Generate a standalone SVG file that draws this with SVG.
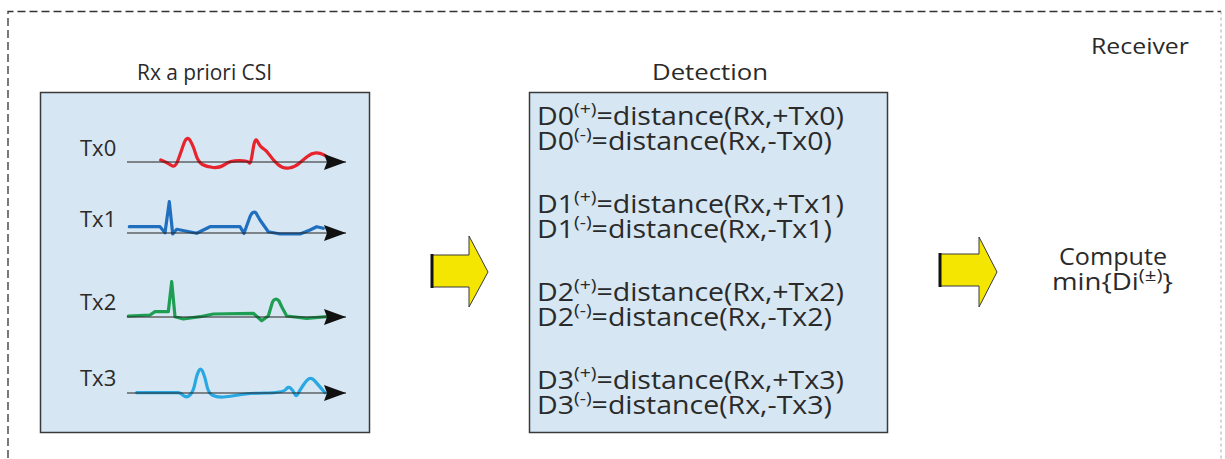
<svg xmlns="http://www.w3.org/2000/svg" width="1225" height="459" viewBox="0 0 1225 459">
<style>
text{font-family:"Open Sans","Liberation Sans",sans-serif;fill:#2a2a2a}
.h{font-size:21px}
.t{font-size:22px}
.d{font-size:25px}
.c{font-size:23px}
.s{font-size:17px}
.box{fill:#d6e6f2;stroke:#3a3a3a;stroke-width:1.5}
.ax{stroke:#222;stroke-width:1.2;fill:none}
.w{fill:none;stroke-width:3.2;stroke-linejoin:round;stroke-linecap:round}
.ya{fill:#f4e600;stroke:#3a3a3a;stroke-width:1}
.sh{stroke:#111;stroke-width:3}
</style>
<defs>
<marker id="ah" markerUnits="userSpaceOnUse" markerWidth="22" markerHeight="16" refX="22" refY="8" orient="auto">
<path d="M0,0 L22,8 L0,16 L3,8 z" fill="#111"/>
</marker>
</defs>
<g id="receiver">
<path d="M8,470 L8,11.5 L1221,11.5" fill="none" stroke="#333" stroke-width="1.3" stroke-dasharray="8,4"/>
<path d="M1221,11.5 L1221,470" fill="none" stroke="#aaa" stroke-width="1" stroke-dasharray="3,3"/>
<text class="h" x="1091" y="54" textLength="98" lengthAdjust="spacingAndGlyphs">Receiver</text>
</g>
<g id="csi">
<text class="h" x="137" y="80" textLength="135" lengthAdjust="spacingAndGlyphs">Rx a priori CSI</text>
<rect class="box" x="40.5" y="92.5" width="329" height="340"/>
<text class="t" x="80" y="156">Tx0</text>
<text class="t" x="80" y="227">Tx1</text>
<text class="t" x="80" y="310">Tx2</text>
<text class="t" x="80" y="386">Tx3</text>
<path class="w" stroke="#e8232d" d="M160.7,160 L164.35,161.5 Q168,163 171.5,165.5 Q175,168 177.5,161.5 Q180,155 183.35,145 Q186.7,135 189.85,140 Q193,145 195.5,153.5 Q198,162 202.35,164.5 Q206.7,167 213.35,167.5 Q220,168 225,164.35 Q230,160.7 239,160.7 Q248,160.7 249.35,162.85 Q250.7,165 252.85,150.5 Q255,136 257.5,141.35 Q260,146.7 263.35,148.7 Q266.7,150.7 269.85,155.35 Q273,160 278,164.5 Q283,169 289,168 Q295,167 299,163.5 Q303,160 307.35,156.5 Q311.7,153 315.85,152.85 Q320,152.7 323.35,154.7 L326.7,156.7"/>
<path class="w" stroke="#1f6fbe" d="M129.3,226.7 L160,226.7 L165,232.7 L169.3,201.7 L172.7,234 L176.7,229.3 L196.7,233.3 L210,226.7 L240,226.7 L244,233.3 L250,216.7 Q253,210 256,213 L260,220 L268.3,231.7 L280,234 L300,234 L310,230 L316.7,226.7 L323.3,228.3"/>
<path class="w" stroke="#1e9e52" d="M128.3,316 L150,315 L155,311.7 L168.3,311.7 L171.7,281.7 L175,316.7 L183.3,319 L200,316.7 L213.3,314 L253.3,313.3 L261.7,320.7 L268.3,316 L272.5,302 Q275,297 279,301 L281.7,306.7 L286.7,316 L306.7,318.3 L326.7,316.7"/>
<path class="w" stroke="#2aa8e2" d="M136.7,392.7 L178,392.7 Q180,392.7 183.35,395.5 Q186.7,398.3 190,395 Q193.3,391.7 195,383.35 Q196.7,375 198.7,371 Q200.7,367 202.85,371.85 Q205,376.7 206.65,385 Q208.3,393.3 212.5,395.3 Q216.7,397.3 223.35,397 Q230,396.7 238.35,395 Q246.7,393.3 265,393 Q283.3,392.7 285.8,389.35 Q288.3,386 290.8,388.35 Q293.3,390.7 294.65,394 Q296,397.3 298,393.65 Q300,390 303.35,385 Q306.7,380 309.2,378.65 Q311.7,377.3 315,381.15 Q318.3,385 321.65,388.85 L325,392.7"/>
</g>
<g id="connectors">
<line class="ax" x1="127" y1="162" x2="346" y2="162" marker-end="url(#ah)"/>
<line class="ax" x1="127" y1="233" x2="346" y2="233" marker-end="url(#ah)"/>
<line class="ax" x1="127" y1="317" x2="346" y2="317" marker-end="url(#ah)"/>
<line class="ax" x1="127" y1="393" x2="346" y2="393" marker-end="url(#ah)"/>
<g id="arrow1">
<polygon class="ya" points="432,255 469,255 469,236 488,272 469,307 469,287 432,287"/>
<line class="sh" x1="432" y1="254" x2="432" y2="288"/>
</g>
<g id="arrow2">
<polygon class="ya" points="940,254 979,254 979,237 997,272 979,307 979,286 940,286"/>
<line class="sh" x1="940" y1="253" x2="940" y2="287"/>
</g>
</g>
<g id="detection">
<text class="h" x="652" y="80" textLength="116" lengthAdjust="spacingAndGlyphs">Detection</text>
<rect class="box" x="529.5" y="92.5" width="358" height="340"/>
<g transform="matrix(1.14,0,0,1,-75.18,0)">
<text class="d" x="537" y="125">D0<tspan class="s" dy="-10">(+)</tspan><tspan dy="10">=distance(Rx,+Tx0)</tspan></text>
<text class="d" x="537" y="150">D0<tspan class="s" dy="-10">(-)</tspan><tspan dy="10">=distance(Rx,-Tx0)</tspan></text>
<text class="d" x="537" y="213">D1<tspan class="s" dy="-10">(+)</tspan><tspan dy="10">=distance(Rx,+Tx1)</tspan></text>
<text class="d" x="537" y="238">D1<tspan class="s" dy="-10">(-)</tspan><tspan dy="10">=distance(Rx,-Tx1)</tspan></text>
<text class="d" x="537" y="301">D2<tspan class="s" dy="-10">(+)</tspan><tspan dy="10">=distance(Rx,+Tx2)</tspan></text>
<text class="d" x="537" y="326">D2<tspan class="s" dy="-10">(-)</tspan><tspan dy="10">=distance(Rx,-Tx2)</tspan></text>
<text class="d" x="537" y="389">D3<tspan class="s" dy="-10">(+)</tspan><tspan dy="10">=distance(Rx,+Tx3)</tspan></text>
<text class="d" x="537" y="414">D3<tspan class="s" dy="-10">(-)</tspan><tspan dy="10">=distance(Rx,-Tx3)</tspan></text>
</g>
</g>
<g id="compute">
<text class="c" x="1059" y="265" textLength="108" lengthAdjust="spacingAndGlyphs">Compute</text>
<text class="c" x="1052" y="290" transform="matrix(1.2,0,0,1,-210.4,0)">min{Di<tspan class="s" dy="-9">(±)</tspan><tspan dy="9">}</tspan></text>
</g>
</svg>
